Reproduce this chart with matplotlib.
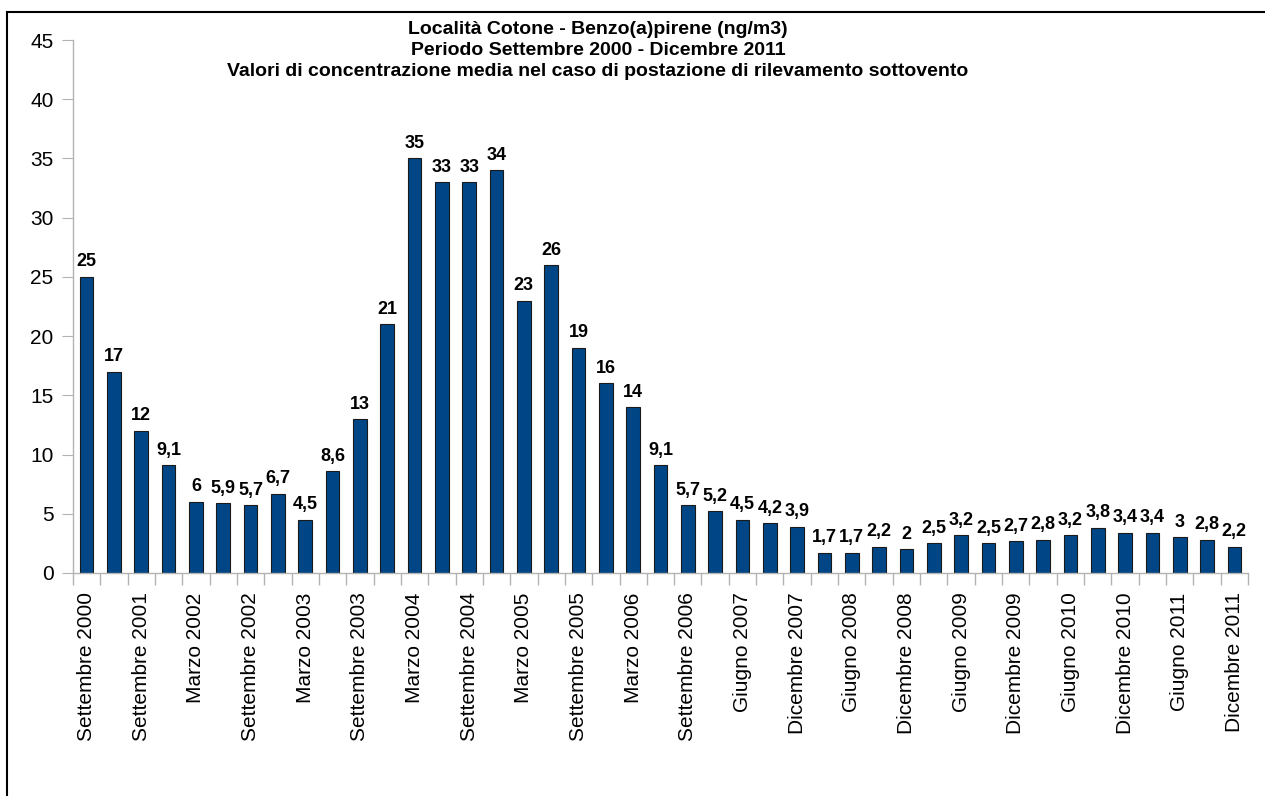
import matplotlib
matplotlib.use("Agg")
import matplotlib.pyplot as plt
from matplotlib.patches import Rectangle
import numpy as np

plt.rcParams['font.family'] = ['Liberation Sans', 'DejaVu Sans']

valori = [25, 17, 12, 9.1, 6, 5.9, 5.7, 6.7, 4.5, 8.6, 13, 21, 35, 33, 33, 34,
          23, 26, 19, 16, 14, 9.1, 5.7, 5.2, 4.5, 4.2, 3.9, 1.7, 1.7, 2.2, 2,
          2.5, 3.2, 2.5, 2.7, 2.8, 3.2, 3.8, 3.4, 3.4, 3, 2.8, 2.2]
etichette = ['Settembre 2000', 'Settembre 2001', 'Marzo 2002', 'Settembre 2002',
             'Marzo 2003', 'Settembre 2003', 'Marzo 2004', 'Settembre 2004',
             'Marzo 2005', 'Settembre 2005', 'Marzo 2006', 'Settembre 2006',
             'Giugno 2007', 'Dicembre 2007', 'Giugno 2008', 'Dicembre 2008',
             'Giugno 2009', 'Dicembre 2009', 'Giugno 2010', 'Dicembre 2010',
             'Giugno 2011', 'Dicembre 2011']
titolo = ("Località Cotone - Benzo(a)pirene (ng/m3)\n"
          "Periodo Settembre 2000 - Dicembre 2011\n"
          "Valori di concentrazione media nel caso di postazione di rilevamento sottovento")

W, H = 1265, 796
fig = plt.figure(figsize=(W / 100, H / 100), dpi=100)
ax = fig.add_axes([73 / W, 1 - 573 / H, (1248 - 73) / W, (573 - 40) / H])

x = np.arange(len(valori))
bars = ax.bar(x, valori, width=0.5, color='#004586', edgecolor='#1a1a1a', linewidth=0.8)

for xi, v in zip(x, valori):
    testo = ('%g' % v).replace('.', ',')
    ax.text(xi, v + 0.55, testo, ha='center', va='bottom', fontsize=13, fontweight='bold')

ax.set_xlim(-0.5, len(valori) - 0.5)
ax.set_ylim(0, 45)
ax.set_yticks(range(0, 46, 5))
ax.set_xticks(x[::2])
ax.set_xticklabels(etichette, rotation=90)
ax.set_xticks(np.arange(-0.5, len(valori), 1), minor=True)
ax.tick_params(axis='x', which='major', length=0, labelsize=15, pad=14)
ax.tick_params(axis='x', which='minor', length=8.5, color='#b3b3b3', width=1)
ax.tick_params(axis='y', length=8, color='#b3b3b3', labelsize=15, pad=6)

for s in ['top', 'right']:
    ax.spines[s].set_visible(False)
for s in ['left', 'bottom']:
    ax.spines[s].set_color('#b3b3b3')
    ax.spines[s].set_linewidth(1)

fig.text(598 / W, 1 - 21 / H, titolo, ha='center', va='top', fontsize=14,
         fontweight='bold', linespacing=1.32)

fig.patches.append(Rectangle((7 / W, -0.1), 1.2, 1 - 12 / H + 0.1, transform=fig.transFigure,
                             fill=False, edgecolor='black', linewidth=1.5))

fig.savefig('out.png', dpi=100)
